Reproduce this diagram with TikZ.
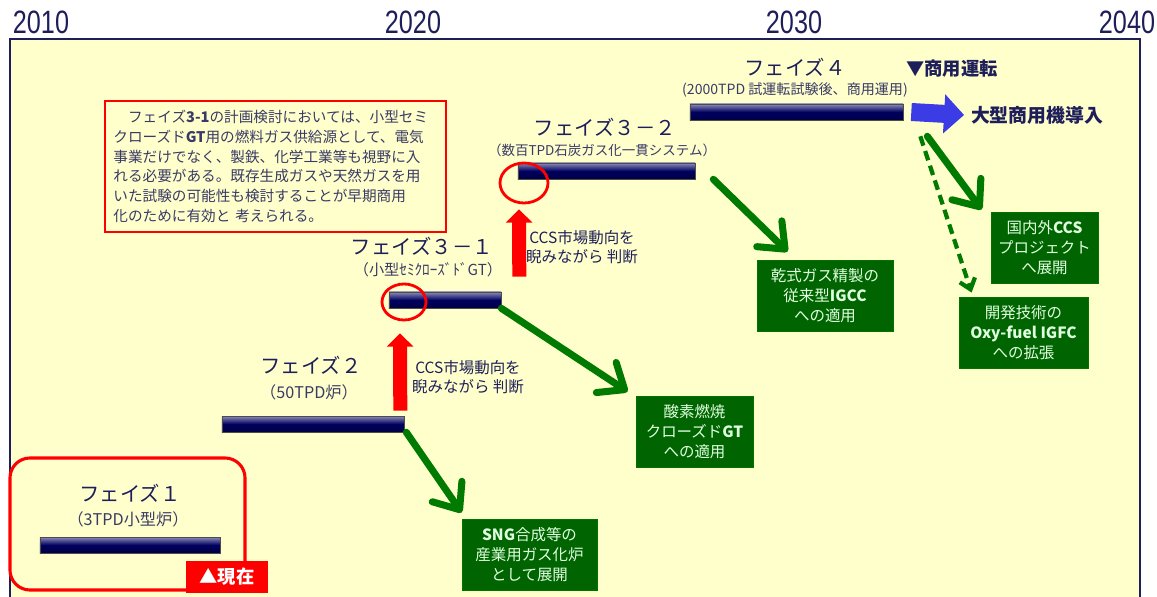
\documentclass[tikz,border=0pt]{standalone}
\usepackage{fontspec}
\setmainfont{Noto Sans CJK JP}
\newfontfamily\yearfont{Liberation Sans}
\usetikzlibrary{arrows.meta,positioning,shapes.geometric}
\definecolor{paper}{HTML}{FFFFCC}
\definecolor{navy}{HTML}{1E1E5A}
\definecolor{subnavy}{HTML}{3A3A66}
\definecolor{barblue}{HTML}{000060}
\definecolor{boxgreen}{HTML}{006400}
\definecolor{arrowgreen}{HTML}{007A00}
\definecolor{bigblue}{HTML}{3C3CE6}
\definecolor{markred}{HTML}{FF0000}

\begin{document}
\begin{tikzpicture}[x=0.025cm,y=-0.025cm,
    year/.style={font=\yearfont\fontsize{23}{23}\selectfont, text=navy},
    bar/.style={draw=black!70, line width=0.4pt, top color=barblue!45!white,
      bottom color=barblue!70!black, middle color=barblue,
      minimum height=0.4cm, inner sep=0pt},
    phasetitle/.style={font=\fontsize{14.5}{16}\selectfont, text=navy},
    phasesub/.style={font=\fontsize{11.5}{12}\selectfont, text=subnavy},
    marketnote/.style={font=\fontsize{11}{14}\selectfont, text=navy, align=center},
    greenbox/.style={fill=boxgreen, draw=green!45!black, line width=0.6pt,
      text=white!88!green, font=\fontsize{11}{14}\selectfont, align=center,
      minimum height=1.775cm, inner sep=2pt},
    growth/.style={draw=arrowgreen, line width=5pt, line cap=round,
      -{Straight Barb[length=0.55cm, width=0.9cm, round]}},
    redup/.style={draw=markred, line width=0.35cm,
      -{Triangle[length=0.33cm, width=0.65cm]}},
    redring/.style={draw=markred, line width=2pt, ellipse, inner sep=0pt}]
\useasboundingbox (0,0) rectangle (1157,597);
% timeline frame and years
\draw[draw=navy, line width=1.5pt, fill=paper] (10,39) rectangle (1140,605);
\foreach \yr/\xx in {2010/41, 2020/413, 2030/794, 2040/1127}
  \node[year] (y\yr) at (\xx,22) {\scalebox{0.78}[1]{\yr}};

% note on phase 3-1
\node[draw=markred, line width=1.2pt, minimum width=8.525cm, minimum height=3.275cm,
  font=\fontsize{10.4}{14}\selectfont, text=subnavy, align=left, text width=8.1cm]
  (note) at (275.5,166.5)
  {　フェイズ\textbf{3-1}の計画検討においては、小型セミ\\
   クローズド\textbf{GT}用の燃料ガス供給源として、電気\\
   事業だけでなく、製鉄、化学工業等も視野に入\\
   れる必要がある。既存生成ガスや天然ガスを用\\
   いた試験の可能性も検討することが早期商用\\
   化のために有効と 考えられる。};

% phases
\node[draw=markred, line width=2.2pt, rounded corners=0.5cm, minimum width=5.875cm,
  minimum height=3.3cm] (p1frame) at (127.5,524) {};
\node[bar, minimum width=4.5cm] (p1bar) at (130,545) {};
\node[phasetitle] (p1title) at (130,493) {フェイズ１};
\node[phasesub] (p1sub) at (128,519) {（3TPD小型炉）};
\node[fill=markred, text=white, font=\bfseries\fontsize{13}{14}\selectfont,
  minimum width=2.05cm, minimum height=0.8cm] (now) at (227,577) {▲現在};

\node[bar, minimum width=4.55cm] (p2bar) at (313,424) {};
\node[phasetitle] (p2title) at (311,365) {フェイズ２};
\node[phasesub] (p2sub) at (309,392) {（50TPD炉）};

\node[bar, minimum width=2.8cm] (p31bar) at (445,300) {};
\node[phasetitle] (p31title) at (422,246) {フェイズ３－１};
\node[phasesub, font=\fontsize{10.8}{12}\selectfont] (p31sub) at (428,270)
  {（小型ｾﾐｸﾛｰｽﾞﾄﾞGT）};
\node[redring, minimum width=1.1cm, minimum height=0.9cm] (c31) at (404,302) {};

\node[bar, minimum width=4.425cm] (p32bar) at (606.5,171) {};
\node[phasetitle] (p32title) at (605,127) {フェイズ３－２};
\node[phasesub, font=\fontsize{9.6}{11}\selectfont] (p32sub) at (602,150)
  {（数百TPD石炭ガス化一貫システム）};
\node[redring, minimum width=1.2cm, minimum height=1cm] (c32) at (524,183) {};

\node[bar, minimum width=5.325cm] (p4bar) at (796.5,112) {};
\node[phasetitle] (p4title) at (795,67) {フェイズ４};
\node[phasesub, font=\fontsize{10}{11}\selectfont] (p4sub) at (795,90)
  {(2000TPD 試運転試験後、商用運用)};
\node[text=navy, font=\bfseries\fontsize{13}{14}\selectfont] (start) at (952,69) {▼商用運転};
\node[text=navy, font=\bfseries\fontsize{13.4}{14}\selectfont] (bigtxt) at (1037,115)
  {大型商用機導入};
\draw[draw=bigblue, line width=0.45cm, -{Triangle[length=0.5cm, width=0.95cm]}]
  ([xshift=0.2cm]p4bar.east) -- ([xshift=-0.05cm]bigtxt.west);

% market decisions
\draw[redup] ([xshift=-0.1cm,yshift=0.125cm]p2bar.north east)
  -- ([xshift=-0.1cm,yshift=-0.3cm]c31.south);
\node[marketnote] (ccs1) at (468,377) {CCS市場動向を\\睨みながら 判断};
\draw[redup] ([xshift=0.45cm,yshift=0.375cm]p31bar.north east)
  -- ([xshift=-0.125cm,yshift=-0.125cm]c32.south);
\node[marketnote] (ccs2) at (582,247) {CCS市場動向を\\睨みながら 判断};

% spin-off applications
\node[greenbox, minimum width=3.375cm] (sng) at (529.5,554.5)
  {\textbf{SNG}合成等の\\産業用ガス化炉\\として展開};
\node[greenbox, minimum width=2.925cm] (sanso) at (694.5,431.5)
  {酸素燃焼\\クローズド\textbf{GT}\\への適用};
\node[greenbox, minimum width=3.4cm] (kan) at (825,295.5)
  {乾式ガス精製の\\従来型\textbf{IGCC}\\への適用};
\node[greenbox, minimum width=2.675cm] (kok) at (1044.5,247.5)
  {国内外\textbf{CCS}\\プロジェクト\\へ展開};
\node[greenbox, minimum width=3.225cm] (kai) at (1023.5,332.5)
  {開発技術の\\\textbf{Oxy-fuel IGFC}\\への拡張};

\draw[growth] ([xshift=0.05cm]p2bar.south east) -- ([yshift=0.15cm]sng.north west);
\draw[growth] (p31bar.south east) -- ([xshift=-0.2cm,yshift=0.1cm]sanso.north west);
\draw[growth] ([xshift=0.45cm]p32bar.south east) -- ([xshift=0.775cm,yshift=0.2cm]kan.north west);
\draw[growth] ([xshift=0.6cm,yshift=-0.4cm]p4bar.south east)
  -- ([xshift=-0.225cm,yshift=0.05cm]kok.north west);
\draw[draw=arrowgreen, line width=3pt, dash pattern=on 7pt off 4pt,
  -{Straight Barb[length=0.25cm, width=0.4cm]}]
  ([xshift=0.425cm,yshift=-0.4cm]p4bar.south east)
  -- ([xshift=0.325cm,yshift=0.1cm]kai.north west);
\end{tikzpicture}
\end{document}
